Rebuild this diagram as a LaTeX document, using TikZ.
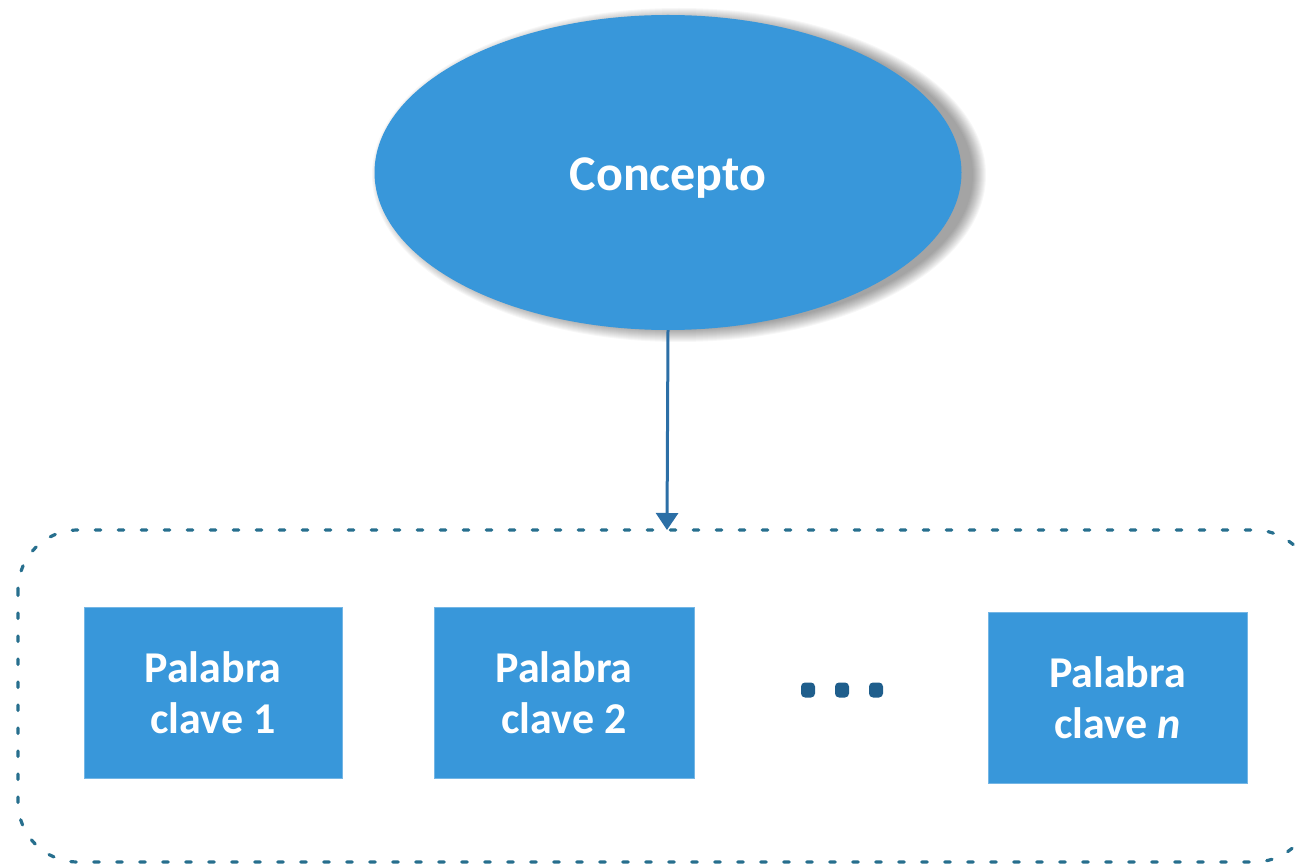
\documentclass[tikz,border=0pt]{standalone}
\usepackage{fontspec}
\setmainfont{Carlito}
\usetikzlibrary{arrows.meta,shapes.geometric}
\definecolor{fillblue}{HTML}{3897DA}
\definecolor{arrowblue}{HTML}{2C6FA6}
\definecolor{dotteal}{HTML}{276F8E}
\definecolor{dotsblue}{HTML}{1F5E8C}
\tikzset{
  keybox/.style={rectangle, fill=fillblue, draw=fillblue!70!white, line width=0.8pt, inner sep=0pt,
    text=white, font=\bfseries\fontsize{44}{51}\selectfont, align=center},
  bigdot/.style={rectangle, rounded corners=4pt, fill=dotsblue, minimum width=14pt, minimum height=15pt, inner sep=0pt},
}
\begin{document}
\begin{tikzpicture}[x=1pt,y=-1pt]
\useasboundingbox (0,0) rectangle (1299,866);
% shadow
\foreach \i in {0,...,13}{
  \fill[black, opacity=0.032] (679,175) ellipse [x radius={307-\i}, y radius={167-\i}];
}
\node[ellipse, fill=fillblue, minimum width=587pt, minimum height=315pt, inner sep=0pt] (concept) at (668,172.5) {};
\node[text=white, font=\bfseries\fontsize{50}{60}\selectfont, inner sep=0pt] (conceptlabel) at (668,178) {Concepto};
% dotted container
\draw[dotteal, line width=3.2pt, dash pattern=on 5.5pt off 17.5pt, line cap=round, rounded corners=60pt]
  (18,530) rectangle (1314,862);
\coordinate (target) at (667,530);
\draw[arrowblue, line width=3pt, -{Triangle[width=22pt,length=17pt]}] (concept.south) -- (target);
% key boxes
\node[keybox, minimum width=258pt, minimum height=171pt] (k1) at (213,692.5) {Palabra\\clave 1};
\node[keybox, minimum width=260pt, minimum height=171pt] (k2) at (564,692.5) {Palabra\\clave 2};
\node[keybox, minimum width=259pt, minimum height=171pt] (kn) at (1117.5,697.5) {Palabra\\clave \textit{n}};
% ellipsis dots
\node[bigdot] (d1) at (808,690) {};
\node[bigdot] (d2) at (842,690) {};
\node[bigdot] (d3) at (876,690) {};
\end{tikzpicture}
\end{document}
